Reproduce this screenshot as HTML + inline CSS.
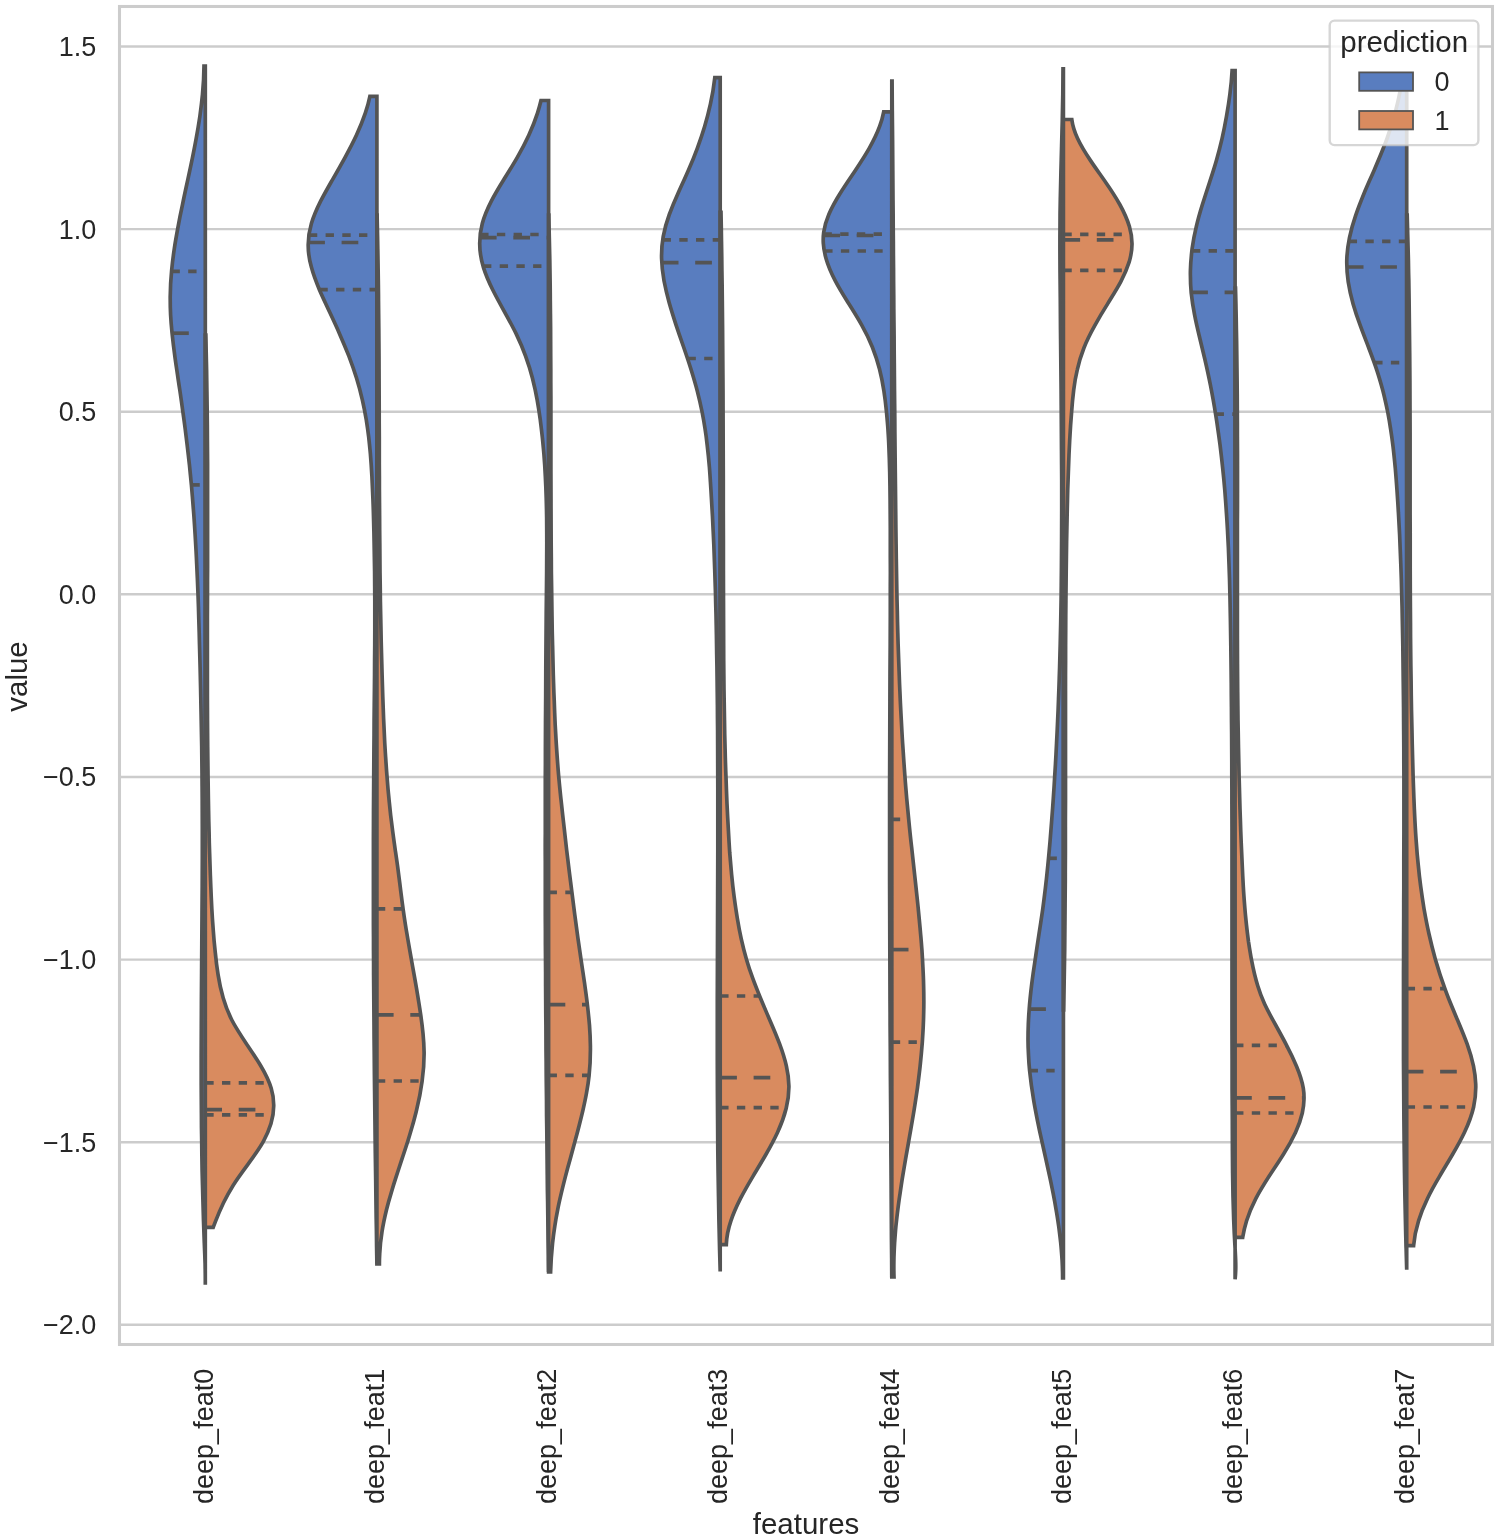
<!DOCTYPE html>
<html><head><meta charset="utf-8"><title>violin</title>
<style>html,body{margin:0;padding:0;background:#fff}svg{display:block;will-change:transform}text{font-family:"Liberation Sans",sans-serif;fill:#262626}</style></head><body>
<svg width="1499" height="1540" viewBox="0 0 1499 1540">
<rect width="1499" height="1540" fill="#fff"/>
<g stroke="#cccccc" stroke-width="2.45" fill="none">
<path d="M119.5 46.5H1492.5"/>
<path d="M119.5 229.1H1492.5"/>
<path d="M119.5 411.7H1492.5"/>
<path d="M119.5 594.3H1492.5"/>
<path d="M119.5 777H1492.5"/>
<path d="M119.5 959.6H1492.5"/>
<path d="M119.5 1142.2H1492.5"/>
<path d="M119.5 1324.8H1492.5"/>
</g>
<g stroke="#545454" stroke-width="3.68" stroke-linejoin="miter" stroke-miterlimit="10" stroke-linecap="butt">
<path d="M205.3 66 L204 66C203.9 75.4 203.4 84.8 202.5 94.2C201.8 101.5 200.9 108.9 199.9 116.2C198.8 123.6 197.6 131 196.2 138.3C194.9 145.7 193.4 153 191.9 160.4C190.4 167.8 188.8 175.1 187.2 182.5C185.6 189.8 184 197.2 182.5 204.6C180.9 211.9 179.4 219.2 178.1 226.6C176.7 234 175.4 241.3 174.3 248.7C173.2 256.1 172.3 263.4 171.6 270.8C170.7 279.6 170.3 288.5 170.2 297.3C170.2 303.2 170.3 309.1 170.6 315C170.9 320.8 171.4 326.7 172 332.6C172.9 341.4 174 350.3 175.2 359.1C175.9 364.2 176.7 369.4 177.5 374.6C178.2 379.7 179 384.9 179.8 390C180.9 397.3 181.9 404.7 182.9 412C183.7 417.7 184.5 423.4 185.2 429.1C185.9 434.8 186.6 440.5 187.3 446.2C188 452.6 188.8 459.1 189.5 465.5C190.1 472 190.8 478.4 191.4 484.9C192.1 493.2 192.8 501.4 193.4 509.7C194.1 518 194.6 526.2 195.1 534.5C195.7 544.4 196.3 554.4 196.7 564.3C197.2 574.2 197.6 584.2 198 594.1C198.3 602.6 198.6 611 198.8 619.5C199.1 628 199.3 636.4 199.5 644.9C199.7 652.2 199.9 659.6 200.1 667C200.3 674.3 200.5 681.6 200.6 689C200.7 694.2 200.8 699.3 200.9 704.5C201 709.7 201.1 714.8 201.2 720C201.4 728.9 201.5 737.8 201.7 746.7C201.8 755.6 201.9 764.4 202 773.3C202.1 782.2 202.1 791.1 202.2 800C202.3 809.5 202.3 819 202.3 828.6C202.3 838.1 202.3 847.6 202.3 857.1C202.3 866.7 202.2 876.2 202.2 885.7C202.1 895.2 202.1 904.8 202 914.3C201.9 923.8 201.9 933.3 201.8 942.9C201.7 952.4 201.7 961.9 201.6 971.4C201.5 981 201.5 990.5 201.4 1000C201.3 1009.4 201.3 1018.8 201.3 1028.2C201.2 1037.6 201.2 1047 201.2 1056.4C201.2 1065.8 201.2 1075.2 201.2 1084.6C201.2 1094 201.3 1103.4 201.4 1112.8C201.4 1122.2 201.5 1131.6 201.7 1141C201.8 1150.8 201.9 1160.7 202.1 1170.5C202.4 1180.3 202.6 1190.2 202.9 1200C203.1 1207 203.3 1214 203.5 1221C203.8 1228.3 204 1235.7 204.3 1243C204.6 1250 204.9 1256.9 205.1 1263.9C205.2 1270.9 205.4 1277.8 205.3 1284.8L205.3 1284.8Z" fill="#597dbf"/>
<g fill="none">
<path d="M171.5 271.4H205.3" stroke-dasharray="8.35 8.35"/>
<path d="M172.1 333.2H205.3" stroke-dasharray="16.7 16.7"/>
<path d="M191.4 484.9H205.3" stroke-dasharray="8.35 8.35"/>
</g>
<path d="M205.3 335 L205.8 335C206 340.8 206.1 346.7 206.2 352.5C206.3 358.3 206.5 364.2 206.6 370C206.7 377 206.8 384 206.9 391C207 398 207.1 405 207.2 412C207.3 420.7 207.4 429.3 207.4 438C207.5 446.7 207.5 455.3 207.6 464C207.6 472.7 207.6 481.3 207.6 490C207.6 498.7 207.6 507.3 207.6 516C207.6 524.7 207.6 533.3 207.6 542C207.6 550.7 207.6 559.3 207.6 568C207.5 576.7 207.5 585.3 207.5 594C207.5 602.4 207.4 610.8 207.4 619.2C207.4 627.6 207.4 636 207.4 644.4C207.4 652.8 207.4 661.2 207.4 669.6C207.4 678 207.4 686.4 207.4 694.8C207.4 703.2 207.5 711.6 207.5 720C207.6 728.9 207.6 737.8 207.7 746.7C207.8 755.6 207.9 764.4 208 773.3C208.1 782.2 208.2 791.1 208.4 800C208.5 807.2 208.7 814.3 208.8 821.5C209 828.7 209.2 835.8 209.3 843C209.5 850.2 209.8 857.3 210 864.5C210.2 871.9 210.5 879.2 210.8 886.6C211.1 894 211.4 901.3 211.8 908.7C212.2 916.1 212.7 923.4 213.3 930.8C213.8 938.1 214.5 945.4 215.3 952.8C216 960.2 216.9 967.5 218.1 974.9C219.3 982.6 220.9 990.3 223.2 998C225.3 1005.3 228.1 1012.7 231.8 1020C236 1028.1 241.3 1036.1 246.7 1044.2C251.6 1051.5 256.6 1058.9 261 1066.2C265.4 1073.6 269 1080.9 271.2 1088.3C273 1094.2 273.8 1100.1 273.7 1106C273.7 1111.9 272.7 1117.7 271 1123.6C269.2 1129.5 266.7 1135.4 263.4 1141.3C259.3 1148.7 254 1156 248.6 1163.4C243.2 1170.7 237.7 1178.1 233.1 1185.4C229.4 1191.3 226.3 1197.1 223.4 1203C220.6 1208.9 218 1214.9 215.7 1220.8C214.8 1223 214 1225.2 213.2 1227.4L205.3 1227.4Z" fill="#d98b5f"/>
<g fill="none">
<path d="M205.3 1082.8H269.3" stroke-dasharray="8.35 8.35"/>
<path d="M205.3 1109.7H273.6" stroke-dasharray="16.7 16.7"/>
<path d="M205.3 1114.8H273" stroke-dasharray="8.35 8.35"/>
</g>
<path d="M376.9 96.4 L369.9 96.4C368.8 102 367.2 107.5 365.3 113.1C362.8 120.5 359.8 127.8 356.4 135.2C352.9 142.6 349.1 149.9 345.1 157.3C341.1 164.6 336.9 172 332.7 179.3C328.5 186.7 324.3 194 320.5 201.4C316.8 208.8 313.6 216.1 311.4 223.5C309.2 230.9 308.1 238.2 308.2 245.6C308.2 252.9 309.4 260.3 311.5 267.6C313.5 275 316.3 282.3 319.4 289.7C322.6 297.1 326.1 304.4 329.5 311.8C333 319.2 336.4 326.5 339.6 333.9C342.8 341.2 345.9 348.6 348.8 355.9C351.6 363.3 354.2 370.6 356.5 378C358.8 385.4 360.7 392.7 362.4 400.1C363.9 406.7 365.2 413.4 366.3 420C367.2 425.7 368 431.3 368.7 437C369.3 442.7 369.9 448.3 370.4 454C371 461.4 371.5 468.8 371.9 476.1C372.3 483.5 372.6 490.9 372.9 498.3C373.2 505.7 373.4 513 373.6 520.4C373.8 527.8 374 535.1 374.1 542.5C374.3 552.3 374.5 562.1 374.6 571.9C374.7 581.7 374.7 591.6 374.8 601.4C374.8 611.2 374.8 621 374.8 630.8C374.8 640.7 374.7 650.7 374.6 660.6C374.6 670.5 374.5 680.5 374.4 690.4C374.3 700.3 374.2 710.3 374.1 720.2C374.1 730.1 374 740.1 373.9 750C373.8 760 373.7 770 373.7 780C373.6 790 373.6 800 373.5 810C373.5 820 373.4 830 373.4 840C373.4 850 373.4 860 373.4 870C373.4 880 373.4 890 373.4 900C373.4 908.3 373.4 916.7 373.4 925C373.5 933.3 373.5 941.7 373.5 950C373.6 958.3 373.6 966.7 373.6 975C373.7 983.3 373.7 991.7 373.8 1000C373.9 1008.3 373.9 1016.7 374 1025C374 1033.3 374.1 1041.7 374.2 1050C374.3 1058.3 374.3 1066.7 374.4 1075C374.5 1083.3 374.6 1091.7 374.7 1100C374.8 1108.9 374.9 1117.8 375 1126.7C375.1 1135.6 375.2 1144.4 375.3 1153.3C375.4 1162.2 375.5 1171.1 375.7 1180C375.8 1188.3 375.9 1196.7 376 1205C376.1 1213.3 376.2 1221.7 376.4 1230C376.5 1235.6 376.5 1241.3 376.6 1246.9C376.7 1252.5 376.8 1258.2 376.9 1263.8L376.9 1263.8Z" fill="#597dbf"/>
<g fill="none">
<path d="M308.9 235.2H376.9" stroke-dasharray="8.35 8.35"/>
<path d="M308.2 242.5H376.9" stroke-dasharray="16.7 16.7"/>
<path d="M319.4 289.7H376.9" stroke-dasharray="8.35 8.35"/>
</g>
<path d="M376.9 215 L377.1 215C377.3 222.5 377.4 230 377.6 237.5C377.7 245 377.9 252.5 378 260C378.1 266.7 378.2 273.3 378.3 280C378.4 286.7 378.5 293.3 378.5 300C378.6 309.2 378.7 318.3 378.8 327.5C378.9 336.7 378.9 345.8 379 355C379 364.2 379.1 373.3 379.1 382.5C379.1 391.7 379.2 400.8 379.2 410C379.2 418.8 379.2 427.7 379.3 436.5C379.3 445.3 379.3 454.2 379.3 463C379.4 471.8 379.4 480.7 379.4 489.5C379.5 498.3 379.5 507.2 379.6 516C379.6 524.8 379.7 533.7 379.8 542.5C379.8 552.3 379.9 562.1 380 571.9C380.2 581.7 380.3 591.6 380.4 601.4C380.6 611.2 380.8 621 381 630.8C381.1 638.2 381.3 645.5 381.5 652.9C381.7 660.2 381.9 667.6 382.1 674.9C382.3 682.3 382.6 689.6 382.8 697C383.1 704.2 383.3 711.3 383.6 718.5C383.9 725.7 384.3 732.8 384.6 740C384.9 746.1 385.3 752.1 385.7 758.2C386.1 764.3 386.5 770.3 387 776.4C387.6 785 388.4 793.7 389.3 802.3C390.1 811 391.1 819.6 392.3 828.3C393.2 835.7 394.3 843 395.3 850.4C396.4 857.8 397.5 865.1 398.4 872.5C399.2 878.6 400 884.6 400.7 890.7C401.5 896.8 402.2 902.8 403.1 908.9C404.3 917.5 405.6 926.2 407.1 934.8C408.5 943.5 410.1 952.1 411.6 960.8C413.2 969.8 414.9 978.8 416.4 987.8C417.9 996.8 419.4 1005.8 420.7 1014.8C421.6 1021 422.4 1027.2 423 1033.4C423.6 1039.6 424 1045.8 424.1 1052C424.2 1061.7 423.5 1071.5 422.1 1081.2C420.8 1090.9 418.9 1100.7 416.5 1110.4C415.2 1115.5 413.9 1120.7 412.4 1125.8C410.9 1131 409.4 1136.1 407.8 1141.3C405.9 1147.2 404 1153.1 402 1158.9C400.1 1164.8 398.1 1170.7 396.2 1176.6C394.4 1182.1 392.7 1187.6 391.1 1193.2C389.4 1198.7 387.9 1204.2 386.5 1209.7C384.7 1217.1 383.1 1224.4 382 1231.8C380.8 1239.2 380.1 1246.5 379.7 1253.9C379.5 1257.2 379.4 1260.5 379.4 1263.8L376.9 1263.8Z" fill="#d98b5f"/>
<g fill="none">
<path d="M376.9 908.9H403.1" stroke-dasharray="8.35 8.35"/>
<path d="M376.9 1014.8H420.7" stroke-dasharray="16.7 16.7"/>
<path d="M376.9 1081H422.2" stroke-dasharray="8.35 8.35"/>
</g>
<path d="M548.6 100.5 L541 100.5C540 104.7 538.8 108.9 537.5 113.1C535.1 120.5 532.2 127.8 528.8 135.2C525.4 142.6 521.6 149.9 517.3 157.3C513.1 164.6 508.5 172 504 179.3C499.4 186.7 495 194 491.2 201.4C487.4 208.8 484.3 216.1 482.3 223.5C480.5 230.1 479.7 236.8 479.7 243.4C479.7 251.5 481 259.5 483.5 267.6C485.8 275 489 282.3 492.7 289.7C496.4 297.1 500.4 304.4 504.5 311.8C508.5 319.2 512.6 326.5 516.2 333.9C519.7 341.2 522.9 348.6 525.5 355.9C528.2 363.3 530.5 370.6 532.4 378C534.3 385.4 535.9 392.7 537.2 400.1C538.4 406.7 539.4 413.4 540.3 420C541 425.7 541.7 431.3 542.3 437C542.9 442.7 543.4 448.3 543.9 454C544.5 461.3 545 468.7 545.3 476C545.7 483.3 546 490.7 546.2 498C546.5 507.8 546.7 517.7 546.7 527.5C546.8 537.4 546.8 547.2 546.7 557.1C546.7 566.9 546.6 576.8 546.5 586.6C546.4 595.7 546.3 604.8 546.2 613.8C546.2 622.9 546.1 632 546 641.1C545.9 650.1 545.9 659.2 545.8 668.3C545.8 677.4 545.7 686.5 545.7 695.5C545.6 704.6 545.6 713.7 545.5 722.8C545.5 731.8 545.4 740.9 545.4 750C545.4 759.3 545.4 768.5 545.3 777.8C545.3 787 545.3 796.3 545.3 805.6C545.3 814.8 545.3 824.1 545.3 833.3C545.2 842.6 545.2 851.9 545.3 861.1C545.3 870.4 545.3 879.6 545.3 888.9C545.3 898.1 545.3 907.4 545.3 916.7C545.4 925.9 545.4 935.2 545.4 944.4C545.5 953.7 545.5 963 545.6 972.2C545.6 981.5 545.6 990.7 545.7 1000C545.7 1008.3 545.8 1016.7 545.9 1025C545.9 1033.3 546 1041.7 546 1050C546.1 1058.3 546.2 1066.7 546.2 1075C546.3 1083.3 546.4 1091.7 546.5 1100C546.5 1110 546.6 1120 546.8 1130C546.9 1140 547 1150 547.1 1160C547.2 1170 547.3 1180 547.4 1190C547.6 1198.3 547.7 1206.7 547.8 1215C547.9 1223.3 548 1231.7 548.1 1240C548.2 1245.3 548.3 1250.7 548.4 1256C548.4 1261.3 548.5 1266.7 548.6 1272L548.6 1272Z" fill="#597dbf"/>
<g fill="none">
<path d="M480.2 234.5H548.6" stroke-dasharray="8.35 8.35"/>
<path d="M479.9 237.6H548.6" stroke-dasharray="16.7 16.7"/>
<path d="M483 266.1H548.6" stroke-dasharray="8.35 8.35"/>
</g>
<path d="M548.6 215 L548.8 215C549 222.5 549.2 230 549.3 237.5C549.5 245 549.7 252.5 549.8 260C549.9 266.7 550 273.3 550.1 280C550.2 286.7 550.3 293.3 550.3 300C550.4 309.2 550.5 318.3 550.6 327.5C550.6 336.7 550.7 345.8 550.7 355C550.8 364.2 550.8 373.3 550.8 382.5C550.9 391.7 550.9 400.8 550.9 410C550.9 419.8 550.9 429.6 550.9 439.4C550.9 449.2 550.9 459.1 550.9 468.9C550.9 478.7 551 488.5 551 498.3C551 508.1 551 517.9 551.1 527.7C551.1 537.5 551.2 547.4 551.3 557.2C551.3 567 551.4 576.8 551.6 586.6C551.7 596.4 551.8 606.2 552 616.1C552.1 625.9 552.3 635.7 552.6 645.5C552.8 655.4 553 665.2 553.3 675C553.6 683.3 553.8 691.7 554.2 700C554.5 708.3 554.8 716.7 555.2 725C555.7 733.3 556.1 741.7 556.7 750C557.3 758.8 557.9 767.6 558.7 776.4C559.5 785 560.3 793.7 561.3 802.3C562.2 811 563.2 819.6 564.2 828.3C565 835.4 565.8 842.5 566.6 849.6C567.5 856.7 568.3 863.9 569.2 871C570.1 878.1 571 885.2 571.9 892.3C572.8 899.9 573.8 907.5 574.8 915.1C575.8 922.7 576.9 930.4 577.9 938C579 945.6 580.1 953.2 581.2 960.8C582.3 968.1 583.4 975.5 584.5 982.8C585.5 990.2 586.6 997.5 587.4 1004.9C588.2 1011.8 588.9 1018.6 589.5 1025.5C590 1032.3 590.3 1039.2 590.4 1046C590.5 1055.8 590.2 1065.7 589.1 1075.5C588.5 1081.3 587.6 1087.1 586.5 1093C585.5 1098.8 584.2 1104.6 582.9 1110.4C581.7 1115.5 580.4 1120.7 579.1 1125.8C577.8 1131 576.4 1136.1 575 1141.3C573.4 1147.2 571.8 1153.1 570.2 1158.9C568.5 1164.8 566.9 1170.7 565.4 1176.6C564 1182.1 562.6 1187.6 561.3 1193.2C560 1198.7 558.7 1204.2 557.7 1209.7C556.6 1215.2 555.6 1220.7 554.8 1226.2C553.9 1231.8 553.2 1237.3 552.6 1242.8C551.6 1252.5 550.9 1262.3 550.6 1272L548.6 1272Z" fill="#d98b5f"/>
<g fill="none">
<path d="M548.6 892.3H571.9" stroke-dasharray="8.35 8.35"/>
<path d="M548.6 1004.7H587.4" stroke-dasharray="16.7 16.7"/>
<path d="M548.6 1075.3H589.1" stroke-dasharray="8.35 8.35"/>
</g>
<path d="M720.2 77.7 L714.8 77.7C713.8 86.5 712.4 95.4 710.4 104.2C708.8 111.5 706.9 118.9 704.7 126.2C702.5 133.6 700 140.9 697.3 148.3C694.6 155.7 691.6 163 688.3 170.4C685.1 177.8 681.7 185.1 678.4 192.5C675.1 199.8 672 207.2 669.3 214.5C666.6 221.9 664.5 229.2 663.2 236.6C661.9 244 661.4 251.3 661.6 258.7C661.8 266.1 662.7 273.4 664 280.8C665.4 288.1 667.2 295.5 669.2 302.8C671.3 310.2 673.6 317.5 676 324.9C678.5 332.3 681 339.6 683.6 347C686.1 354.3 688.6 361.7 690.9 369C693.2 376.4 695.4 383.7 697.3 391.1C699.1 398.1 700.7 405 702.1 412C703.2 417.5 704.2 423.1 705 428.6C705.9 434.1 706.6 439.7 707.2 445.2C708.1 452.6 708.8 459.9 709.4 467.2C710 474.6 710.4 481.9 710.9 489.3C711.5 498.5 712 507.7 712.5 516.9C712.9 526.1 713.4 535.3 713.8 544.5C714.1 552.8 714.4 561.1 714.7 569.4C715 577.6 715.2 585.9 715.5 594.2C715.6 600.9 715.8 607.7 716 614.4C716.1 621.2 716.3 627.9 716.4 634.7C716.5 641.4 716.6 648.2 716.7 654.9C716.9 663.2 717 671.6 717.1 679.9C717.2 688.3 717.3 696.6 717.4 705C717.4 713.3 717.5 721.7 717.6 730C717.6 740 717.7 750 717.7 760C717.8 770 717.8 780 717.8 790C717.8 800 717.8 810 717.8 820C717.8 830 717.8 840 717.8 850C717.7 860 717.7 870 717.7 880C717.7 890 717.6 900 717.6 910C717.5 920 717.5 930 717.5 940C717.4 950 717.4 960 717.4 970C717.4 980 717.3 990 717.3 1000C717.3 1010 717.3 1020 717.3 1030C717.3 1040 717.3 1050 717.3 1060C717.3 1070 717.4 1080 717.4 1090C717.4 1100 717.5 1110 717.6 1120C717.6 1130 717.7 1140 717.8 1150C717.9 1157.8 718 1165.6 718.1 1173.3C718.2 1181.1 718.3 1188.9 718.5 1196.7C718.6 1204.4 718.8 1212.2 718.9 1220C719.1 1230 719.3 1240 719.6 1250C719.8 1257.2 720 1264.3 720.2 1271.5L720.2 1271.5Z" fill="#597dbf"/>
<g fill="none">
<path d="M662.6 239.9H720.2" stroke-dasharray="8.35 8.35"/>
<path d="M661.8 262.6H720.2" stroke-dasharray="16.7 16.7"/>
<path d="M687.5 358.5H720.2" stroke-dasharray="8.35 8.35"/>
</g>
<path d="M720.2 212.3 L721 212.3C721.2 222 721.4 231.8 721.5 241.5C721.7 251.3 721.8 261 721.9 270.8C722.1 280.5 722.2 290.3 722.3 300C722.4 310 722.5 320 722.6 330C722.7 340 722.7 350 722.8 360C722.9 370 722.9 380 723 390C723 400 723.1 410 723.1 420C723.2 430 723.2 440 723.2 450C723.2 460 723.3 470 723.3 480C723.3 490 723.3 500 723.3 510C723.4 520 723.4 530 723.4 540C723.4 550 723.4 560 723.4 570C723.5 580 723.5 590 723.5 600C723.5 610 723.6 620 723.6 630C723.6 640 723.7 650 723.7 660C723.8 670 723.9 680 724 690C724.1 700 724.3 710 724.5 720C724.6 729.6 724.8 739.1 725.1 748.7C725.3 758.3 725.6 767.8 726 777.4C726.3 786.2 726.6 795.1 727 803.9C727.4 812.7 727.9 821.6 728.4 830.4C728.8 837.8 729.2 845.1 729.7 852.5C730.3 859.8 730.9 867.1 731.6 874.5C732.3 881.9 733.1 889.2 734.1 896.6C735.1 904 736.1 911.3 737.4 918.7C738.5 925.5 739.8 932.3 741.3 939.1C742.8 945.9 744.5 952.7 746.5 959.5C748.3 965.8 750.4 972 752.7 978.2C755 984.5 757.5 990.8 760 997C763.5 1005.3 767 1013.7 770.6 1022C773.8 1029.4 776.9 1036.8 779.7 1044.2C782.4 1051.5 784.8 1058.9 786.4 1066.2C787.9 1072.8 788.8 1079.4 788.9 1086C789 1093.4 788 1100.8 786.2 1108.2C784.2 1116.3 781.2 1124.4 777.5 1132.5C774.1 1139.8 770.1 1147.2 765.9 1154.5C761.7 1161.9 757.2 1169.2 752.8 1176.6C748.4 1184 744.2 1191.3 740.4 1198.7C736.7 1206.1 733.4 1213.4 730.9 1220.8C728.2 1228.7 726.6 1236.7 726.3 1244.6L720.2 1244.6Z" fill="#d98b5f"/>
<g fill="none">
<path d="M720.2 996H759.6" stroke-dasharray="8.35 8.35"/>
<path d="M720.2 1077.7H788.4" stroke-dasharray="16.7 16.7"/>
<path d="M720.2 1107.7H786.3" stroke-dasharray="8.35 8.35"/>
</g>
<path d="M891.8 111.9 L883.7 111.9C882.8 116.7 881.5 121.4 879.7 126.2C877 133.6 873.4 140.9 869.2 148.3C865 155.7 860.2 163 855.3 170.4C850.4 177.8 845.3 185.1 840.7 192.5C836.1 199.8 831.9 207.2 828.8 214.5C826.3 220.4 824.5 226.3 823.7 232.2C823.2 235.9 823.1 239.5 823.3 243.2C823.6 248.4 824.6 253.5 826.1 258.7C828.2 266.1 831.4 273.4 835.3 280.8C839.1 288.1 843.7 295.5 848.2 302.8C852.9 310.2 857.5 317.5 861.6 324.9C865.8 332.3 869.3 339.6 872.3 347C875.2 354.3 877.6 361.7 879.5 369C881.4 376.4 882.8 383.7 883.9 391.1C885 398.1 885.8 405 886.5 412C887 417.5 887.5 423 887.9 428.5C888.2 434 888.6 439.5 888.8 445C889.2 454.2 889.5 463.3 889.7 472.5C889.9 481.7 890 490.8 890.1 500C890.2 509.6 890.2 519.2 890.3 528.8C890.3 538.3 890.3 547.9 890.3 557.5C890.4 567.1 890.4 576.7 890.3 586.2C890.3 595.8 890.3 605.4 890.3 615C890.2 624.6 890.2 634.2 890.2 643.8C890.1 653.3 890.1 662.9 890 672.5C890 682.1 889.9 691.7 889.9 701.2C889.8 710.8 889.8 720.4 889.8 730C889.7 740 889.7 750 889.7 760C889.6 770 889.6 780 889.6 790C889.6 800 889.6 810 889.6 820C889.6 830 889.6 840 889.6 850C889.6 860 889.6 870 889.6 880C889.6 890 889.7 900 889.7 910C889.7 920 889.7 930 889.8 940C889.8 950 889.8 960 889.9 970C889.9 980 890 990 890 1000C890.1 1008.3 890.1 1016.7 890.1 1025C890.2 1033.3 890.2 1041.7 890.3 1050C890.3 1058.3 890.4 1066.7 890.4 1075C890.5 1083.3 890.5 1091.7 890.6 1100C890.6 1108.9 890.7 1117.8 890.8 1126.7C890.8 1135.6 890.9 1144.4 890.9 1153.3C891 1162.2 891.1 1171.1 891.1 1180C891.2 1190 891.3 1200 891.3 1210C891.4 1220 891.5 1230 891.5 1240C891.6 1246.2 891.6 1252.3 891.7 1258.5C891.7 1264.7 891.8 1270.8 891.8 1277L891.8 1277Z" fill="#597dbf"/>
<g fill="none">
<path d="M823.5 234.2H891.8" stroke-dasharray="8.35 8.35"/>
<path d="M823.3 235.5H891.8" stroke-dasharray="16.7 16.7"/>
<path d="M824.2 251H891.8" stroke-dasharray="8.35 8.35"/>
</g>
<path d="M891.8 81 L892.1 81C892.2 90.9 892.3 100.8 892.3 110.8C892.4 120.7 892.5 130.6 892.6 140.5C892.6 150.4 892.7 160.3 892.8 170.2C892.9 180.2 892.9 190.1 893 200C893.1 209 893.2 218.1 893.2 227.1C893.3 236.2 893.4 245.2 893.4 254.3C893.5 263.3 893.6 272.4 893.6 281.4C893.7 290.5 893.8 299.5 893.8 308.6C893.9 317.6 894 326.7 894.1 335.7C894.1 344.8 894.2 353.8 894.3 362.9C894.4 371.9 894.4 381 894.5 390C894.6 399.2 894.7 408.3 894.8 417.5C894.8 426.7 894.9 435.8 895 445C895.1 454.2 895.2 463.3 895.3 472.5C895.4 481.7 895.5 490.8 895.6 500C895.7 509.9 895.8 519.7 895.9 529.6C896 539.4 896.2 549.3 896.3 559.1C896.5 569 896.6 578.8 896.8 588.7C896.9 596.1 897.1 603.4 897.3 610.8C897.4 618.2 897.6 625.5 897.8 632.9C898 640.3 898.2 647.6 898.5 655C898.7 662.2 899 669.4 899.3 676.7C899.5 683.9 899.9 691.1 900.2 698.3C900.5 705.6 900.9 712.8 901.3 720C901.8 729.6 902.3 739.1 903 748.7C903.6 758.3 904.3 767.8 905 777.4C905.5 784.4 906.1 791.4 906.7 798.3C907.3 805.3 908 812.3 908.7 819.3C909.6 828.5 910.5 837.7 911.6 846.9C912.6 856.1 913.6 865.3 914.6 874.5C915.4 881.9 916.2 889.2 917 896.6C917.8 904 918.5 911.3 919.2 918.7C919.7 923.9 920.2 929 920.6 934.2C921.1 939.3 921.5 944.5 921.9 949.6C922.3 955.5 922.6 961.4 922.9 967.2C923.2 973.1 923.5 979 923.6 984.9C923.8 992.3 923.9 999.6 923.8 1007C923.7 1012.9 923.6 1018.8 923.3 1024.7C923.1 1030.5 922.7 1036.4 922.3 1042.3C921.7 1050 921 1057.6 920.2 1065.3C919.4 1073 918.4 1080.6 917.4 1088.3C916.1 1097.1 914.8 1106 913.3 1114.8C911.8 1123.6 910.3 1132.5 908.7 1141.3C907.7 1147.2 906.6 1153.1 905.6 1158.9C904.6 1164.8 903.6 1170.7 902.6 1176.6C901.7 1182.1 900.9 1187.6 900.1 1193.2C899.2 1198.7 898.5 1204.2 897.8 1209.7C897.1 1215.2 896.5 1220.7 895.9 1226.2C895.4 1231.8 895 1237.3 894.6 1242.8C894.3 1248.5 894 1254.2 893.9 1259.9C893.8 1265.6 893.8 1271.3 894 1277L891.8 1277Z" fill="#d98b5f"/>
<g fill="none">
<path d="M891.8 819.3H908.7" stroke-dasharray="8.35 8.35"/>
<path d="M891.8 949.6H921.9" stroke-dasharray="16.7 16.7"/>
<path d="M891.8 1042.2H922.3" stroke-dasharray="8.35 8.35"/>
</g>
<path d="M1063.4 68.8 L1063 68.8C1063 77.2 1062.9 85.7 1062.8 94.2C1062.6 102.6 1062.5 111 1062.3 119.5C1062.1 128.4 1061.8 137.2 1061.6 146.1C1061.4 155 1061.1 163.9 1060.9 172.8C1060.7 181.6 1060.5 190.5 1060.3 199.4C1060.1 208.2 1060 217.1 1060 226C1059.9 233.3 1059.9 240.7 1059.9 248C1059.9 255.3 1060 262.7 1060 270C1060.1 280 1060.2 290 1060.3 300C1060.3 310 1060.4 320 1060.5 330C1060.6 340 1060.7 350 1060.8 360C1060.9 370 1061 380 1061.1 390C1061.2 400 1061.2 410 1061.3 420C1061.4 430 1061.5 440 1061.5 450C1061.6 460 1061.6 470 1061.7 480C1061.7 490 1061.7 500 1061.7 510C1061.7 520 1061.7 530 1061.6 540C1061.6 550 1061.5 560 1061.4 570C1061.3 580 1061.2 590 1061.1 600C1061 607.4 1060.8 614.9 1060.7 622.3C1060.5 629.8 1060.4 637.2 1060.2 644.7C1060 652.1 1059.8 659.6 1059.6 667C1059.4 674.2 1059.1 681.3 1058.9 688.5C1058.6 695.7 1058.4 702.8 1058.1 710C1057.8 717.4 1057.4 724.7 1057.1 732.1C1056.7 739.4 1056.4 746.8 1056 754.1C1055.6 761.5 1055.2 768.8 1054.7 776.2C1054.3 783.6 1053.8 790.9 1053.3 798.3C1052.8 805.7 1052.3 813 1051.7 820.4C1051.2 826.7 1050.7 833 1050.2 839.3C1049.7 845.7 1049.1 852 1048.5 858.3C1047.7 866.7 1046.9 875.1 1045.9 883.5C1045 891.9 1043.9 900.3 1042.8 908.7C1041.6 917.1 1040.3 925.6 1039 934C1037.7 942.5 1036.4 950.9 1035.2 959.4C1033.9 967.7 1032.7 976 1031.7 984.2C1030.7 992.5 1029.8 1000.8 1029.2 1009.1C1028.8 1014.2 1028.5 1019.3 1028.3 1024.4C1028.1 1029.5 1028 1034.6 1028 1039.7C1028 1044.9 1028.2 1050 1028.5 1055.2C1028.7 1060.3 1029.1 1065.5 1029.6 1070.6C1030.6 1080.2 1031.9 1089.7 1033.5 1099.3C1034.6 1106.3 1036 1113.3 1037.4 1120.3C1038.8 1127.3 1040.3 1134.3 1041.9 1141.3C1043.2 1147.2 1044.5 1153.1 1045.8 1158.9C1047.1 1164.8 1048.4 1170.7 1049.7 1176.6C1050.9 1182.1 1052 1187.6 1053.1 1193.2C1054.2 1198.7 1055.2 1204.2 1056.1 1209.7C1057.1 1215.2 1057.9 1220.7 1058.7 1226.2C1059.4 1231.8 1060.1 1237.3 1060.7 1242.8C1061.3 1248.7 1061.7 1254.5 1062.1 1260.4C1062.4 1266.3 1062.6 1272.1 1062.6 1278L1063.4 1278Z" fill="#597dbf"/>
<g fill="none">
<path d="M1048.5 858.3H1063.4" stroke-dasharray="8.35 8.35"/>
<path d="M1029.2 1009.2H1063.4" stroke-dasharray="16.7 16.7"/>
<path d="M1029.6 1070.6H1063.4" stroke-dasharray="8.35 8.35"/>
</g>
<path d="M1063.4 119.5 L1071.8 119.5C1072.6 125.8 1074.6 132 1077.5 138.3C1080.9 145.7 1085.4 153 1090.4 160.4C1095.3 167.8 1100.7 175.1 1105.8 182.5C1110.9 189.8 1115.7 197.2 1119.8 204.5C1123.9 211.9 1127.2 219.2 1129.4 226.6C1131.1 232.5 1132.1 238.4 1132 244.3C1132 250.2 1130.9 256 1129.2 261.9C1127.1 268.5 1124.2 275.2 1120.7 281.8C1116.7 289.2 1112.1 296.5 1107.6 303.9C1103 311.2 1098.6 318.6 1094.6 325.9C1090.5 333.3 1086.8 340.6 1083.9 348C1081 355.4 1078.8 362.7 1077.2 370.1C1075.6 376.7 1074.5 383.4 1073.7 390C1072.8 397.3 1072.1 404.7 1071.6 412C1070.8 421.4 1070.2 430.8 1069.7 440.1C1069.2 449.5 1068.8 458.9 1068.5 468.3C1068.2 475.7 1068 483 1067.7 490.4C1067.5 497.8 1067.4 505.1 1067.2 512.5C1067 522.3 1066.8 532.1 1066.6 541.9C1066.5 551.7 1066.3 561.6 1066.2 571.4C1066.1 581.2 1066 591 1065.9 600.8C1065.8 610.7 1065.7 620.7 1065.7 630.6C1065.6 640.5 1065.6 650.5 1065.6 660.4C1065.5 670.3 1065.5 680.3 1065.5 690.2C1065.5 700.1 1065.5 710.1 1065.5 720C1065.5 728.9 1065.5 737.8 1065.5 746.7C1065.5 755.6 1065.5 764.4 1065.5 773.3C1065.5 782.2 1065.5 791.1 1065.5 800C1065.4 808.9 1065.4 817.8 1065.4 826.7C1065.4 835.6 1065.4 844.4 1065.4 853.3C1065.3 862.2 1065.3 871.1 1065.3 880C1065.2 887.8 1065.2 895.6 1065.1 903.3C1065.1 911.1 1065 918.9 1064.9 926.7C1064.8 934.4 1064.8 942.2 1064.7 950C1064.5 960 1064.4 970 1064.2 980C1064 990 1063.8 1000 1063.6 1010L1063.4 1010Z" fill="#d98b5f"/>
<g fill="none">
<path d="M1063.4 234.3H1131.2" stroke-dasharray="8.35 8.35"/>
<path d="M1063.4 239.9H1131.9" stroke-dasharray="16.7 16.7"/>
<path d="M1063.4 270.3H1126.1" stroke-dasharray="8.35 8.35"/>
</g>
<path d="M1235.1 70.5 L1232.1 70.5C1231.7 78.4 1230.9 86.3 1229.9 94.2C1229 101.5 1227.8 108.9 1226.5 116.2C1225.2 123.6 1223.8 130.9 1222.1 138.3C1220.4 145.7 1218.5 153 1216.4 160.4C1214.3 167.8 1211.9 175.1 1209.5 182.5C1207.1 189.8 1204.7 197.2 1202.4 204.5C1200.1 211.9 1198 219.2 1196.3 226.6C1194.5 234 1193.1 241.3 1192.1 248.7C1191.2 256.1 1190.6 263.4 1190.4 270.8C1190.3 278.1 1190.5 285.5 1191.2 292.8C1192 300.2 1193.1 307.5 1194.6 314.9C1196 322.3 1197.7 329.6 1199.5 337C1201.2 344.3 1203.1 351.7 1204.8 359C1206.8 367.7 1208.7 376.3 1210.4 385C1212.3 394.7 1214.1 404.5 1215.6 414.2C1216.5 419.5 1217.3 424.9 1218 430.2C1218.8 435.5 1219.5 440.9 1220.2 446.2C1221.1 453.6 1221.9 460.9 1222.7 468.3C1223.5 475.7 1224.2 483 1224.8 490.4C1225.4 497.8 1225.9 505.1 1226.4 512.5C1226.9 519.8 1227.4 527.1 1227.7 534.5C1228.3 544.4 1228.7 554.4 1229 564.3C1229.4 574.2 1229.7 584.2 1229.9 594.1C1230.1 602.6 1230.3 611.1 1230.4 619.5C1230.6 628 1230.7 636.5 1230.8 645C1230.9 653.3 1231 661.7 1231.1 670C1231.2 678.3 1231.3 686.7 1231.3 695C1231.4 703.3 1231.5 711.7 1231.5 720C1231.6 729.3 1231.7 738.7 1231.7 748C1231.8 757.3 1231.8 766.7 1231.8 776C1231.9 785.3 1231.9 794.7 1231.9 804C1231.9 813.3 1232 822.7 1232 832C1232 841.3 1232 850.7 1232 860C1232 869.3 1232 878.7 1232 888C1232 897.3 1232 906.7 1232 916C1232 925.3 1232 934.7 1232 944C1232 953.3 1232 962.7 1232 972C1232 981.3 1232 990.7 1232 1000C1232 1010 1232 1020 1232 1030C1232 1040 1232 1050 1232.1 1060C1232.1 1070 1232.1 1080 1232.1 1090C1232.2 1100 1232.2 1110 1232.3 1120C1232.3 1130 1232.4 1140 1232.4 1150C1232.5 1157.8 1232.6 1165.6 1232.6 1173.3C1232.7 1181.1 1232.8 1188.9 1233 1196.7C1233.2 1204.4 1233.4 1212.2 1233.7 1220C1234 1228.3 1234.4 1236.7 1234.9 1245C1235.2 1250.7 1235.6 1256.4 1235.7 1262.1C1235.9 1267.8 1235.7 1273.5 1235.1 1279.2L1235.1 1279.2Z" fill="#597dbf"/>
<g fill="none">
<path d="M1191.9 250.9H1235.1" stroke-dasharray="8.35 8.35"/>
<path d="M1191.2 292.4H1235.1" stroke-dasharray="16.7 16.7"/>
<path d="M1215.6 414.2H1235.1" stroke-dasharray="8.35 8.35"/>
</g>
<path d="M1235.1 288 L1235.5 288C1235.7 295 1235.9 302 1236 309C1236.2 316 1236.3 323 1236.4 330C1236.6 338.3 1236.7 346.7 1236.8 355C1236.9 363.3 1237 371.7 1237.1 380C1237.2 389.4 1237.3 398.9 1237.3 408.3C1237.4 417.8 1237.4 427.2 1237.4 436.7C1237.5 446.1 1237.5 455.6 1237.5 465C1237.5 474.4 1237.5 483.9 1237.5 493.3C1237.5 502.8 1237.5 512.2 1237.4 521.7C1237.4 531.1 1237.4 540.6 1237.4 550C1237.4 559.4 1237.4 568.9 1237.4 578.3C1237.4 587.8 1237.4 597.2 1237.4 606.7C1237.4 616.1 1237.4 625.6 1237.4 635C1237.4 644.4 1237.5 653.9 1237.5 663.3C1237.6 672.8 1237.6 682.2 1237.7 691.7C1237.8 701.1 1237.9 710.6 1238 720C1238.2 729.4 1238.3 738.7 1238.5 748.1C1238.7 757.5 1238.9 766.8 1239.1 776.2C1239.3 783.6 1239.5 790.9 1239.7 798.3C1239.9 805.7 1240.1 813 1240.4 820.4C1240.6 827.8 1240.9 835.1 1241.2 842.5C1241.5 849.8 1241.8 857.1 1242.2 864.5C1242.5 871.9 1242.9 879.2 1243.3 886.6C1243.7 894 1244.3 901.3 1244.9 908.7C1245.3 914.2 1245.9 919.7 1246.5 925.2C1247.1 930.8 1247.8 936.3 1248.5 941.8C1249.4 947.7 1250.3 953.5 1251.4 959.4C1253.1 968.3 1255 977.1 1257.8 986C1259.6 992 1261.9 998 1264.6 1004C1268 1011.3 1272.1 1018.7 1276.2 1026C1279.7 1032.4 1283.3 1038.9 1286.6 1045.3C1290.3 1052.3 1293.6 1059.2 1296.5 1066.2C1299.6 1073.6 1302.1 1080.9 1303.3 1088.3C1303.9 1092 1304.1 1095.6 1304 1099.3C1303.9 1103.9 1303.3 1108.4 1302.3 1113C1300.8 1119.5 1298.5 1126 1295.5 1132.5C1292.1 1139.8 1287.9 1147.2 1283.3 1154.5C1278.7 1161.9 1273.7 1169.2 1268.9 1176.6C1264.2 1184 1259.6 1191.3 1255.8 1198.7C1252 1206.1 1248.9 1213.4 1246.6 1220.8C1244.9 1226.3 1243.6 1231.8 1242.7 1237.3L1235.1 1237.3Z" fill="#d98b5f"/>
<g fill="none">
<path d="M1235.1 1045.3H1286.6" stroke-dasharray="8.35 8.35"/>
<path d="M1235.1 1097.8H1304" stroke-dasharray="16.7 16.7"/>
<path d="M1235.1 1113H1302.3" stroke-dasharray="8.35 8.35"/>
</g>
<path d="M1406.7 76 L1402.5 76C1401.8 81.3 1400.9 86.7 1399.9 92C1398.4 100.1 1396.4 108.1 1394.2 116.2C1392.1 123.6 1389.7 130.9 1387.1 138.3C1385.8 142 1384.4 145.6 1382.9 149.3C1380 156.7 1376.8 164 1373.6 171.4C1370.4 178.8 1367.1 186.1 1364 193.5C1361 200.9 1358.1 208.2 1355.6 215.6C1353.1 222.9 1351 230.3 1349.5 237.6C1348 245 1347 252.3 1346.8 259.7C1346.6 267.1 1347.1 274.4 1348.2 281.8C1349.3 289.2 1351 296.5 1353.1 303.9C1355.2 311.2 1357.7 318.6 1360.4 325.9C1363.1 333.3 1366 340.6 1368.8 348C1371.6 355.4 1374.4 362.7 1376.8 370.1C1379 376.7 1380.9 383.4 1382.7 390C1384.6 397.3 1386.2 404.7 1387.7 412C1388.8 417.7 1389.8 423.4 1390.6 429.1C1391.5 434.8 1392.3 440.5 1393 446.2C1393.9 453.6 1394.6 460.9 1395.3 468.3C1395.9 475.7 1396.5 483 1397 490.4C1397.5 497.8 1398 505.1 1398.4 512.5C1398.8 519.8 1399.2 527.1 1399.6 534.5C1400 544.4 1400.4 554.4 1400.8 564.3C1401.2 574.2 1401.5 584.2 1401.7 594.1C1402 602.6 1402.2 611.1 1402.3 619.5C1402.5 628 1402.7 636.5 1402.8 645C1402.9 653.3 1403 661.7 1403.1 670C1403.2 678.3 1403.3 686.7 1403.4 695C1403.5 703.3 1403.6 711.7 1403.6 720C1403.7 729.3 1403.7 738.7 1403.8 748C1403.8 757.3 1403.8 766.7 1403.9 776C1403.9 785.3 1403.9 794.7 1403.9 804C1403.9 813.3 1403.9 822.7 1403.9 832C1403.9 841.3 1403.8 850.7 1403.8 860C1403.8 869.3 1403.8 878.7 1403.8 888C1403.7 897.3 1403.7 906.7 1403.7 916C1403.7 925.3 1403.6 934.7 1403.6 944C1403.6 953.3 1403.6 962.7 1403.5 972C1403.5 981.3 1403.5 990.7 1403.5 1000C1403.5 1010 1403.5 1020 1403.5 1030C1403.5 1040 1403.5 1050 1403.5 1060C1403.6 1070 1403.6 1080 1403.7 1090C1403.7 1100 1403.8 1110 1403.9 1120C1404 1130 1404.1 1140 1404.2 1150C1404.3 1157.8 1404.4 1165.6 1404.5 1173.3C1404.6 1181.1 1404.8 1188.9 1404.9 1196.7C1405 1204.4 1405.2 1212.2 1405.4 1220C1405.6 1229.3 1405.8 1238.7 1406.1 1248C1406.3 1255.3 1406.5 1262.5 1406.7 1269.8L1406.7 1269.8Z" fill="#597dbf"/>
<g fill="none">
<path d="M1348.7 241.4H1406.7" stroke-dasharray="8.35 8.35"/>
<path d="M1346.8 267H1406.7" stroke-dasharray="16.7 16.7"/>
<path d="M1374.2 362.6H1406.7" stroke-dasharray="8.35 8.35"/>
</g>
<path d="M1406.7 215 L1407.2 215C1407.4 222.5 1407.6 230 1407.8 237.5C1408 245 1408.2 252.5 1408.4 260C1408.5 266.7 1408.6 273.3 1408.8 280C1408.9 286.7 1409 293.3 1409.1 300C1409.2 308.9 1409.3 317.8 1409.4 326.7C1409.5 335.6 1409.6 344.4 1409.7 353.3C1409.8 362.2 1409.8 371.1 1409.9 380C1409.9 388.9 1410 397.8 1410 406.8C1410 415.7 1410.1 424.6 1410.1 433.5C1410.1 442.4 1410.1 451.3 1410.1 460.2C1410.1 469.2 1410.1 478.1 1410.1 487C1410.1 495.9 1410.1 504.8 1410.1 513.8C1410.2 522.7 1410.2 531.6 1410.2 540.5C1410.2 549.4 1410.2 558.3 1410.2 567.2C1410.2 576.2 1410.3 585.1 1410.3 594C1410.4 603.7 1410.4 613.3 1410.5 623C1410.5 632.7 1410.6 642.3 1410.7 652C1410.8 661.7 1410.9 671.3 1411.1 681C1411.2 690.7 1411.3 700.3 1411.5 710C1411.7 717.4 1411.8 724.7 1412 732.1C1412.1 739.4 1412.3 746.8 1412.5 754.1C1412.7 761.5 1412.9 768.8 1413.1 776.2C1413.4 783.6 1413.6 790.9 1413.9 798.3C1414.2 805.7 1414.5 813 1414.9 820.4C1415.3 827.8 1415.7 835.1 1416.3 842.5C1416.8 849.8 1417.4 857.1 1418.2 864.5C1418.9 871.9 1419.7 879.2 1420.7 886.6C1421.7 894 1422.8 901.3 1424 908.7C1425.5 917.1 1427.1 925.6 1429 934C1430.9 942.5 1433 950.9 1435.4 959.4C1438.2 969.1 1441.3 978.9 1444.9 988.6C1446.2 992.4 1447.7 996.2 1449.2 1000C1451.9 1006.7 1454.7 1013.3 1457.5 1020C1460.9 1028.1 1464.3 1036.1 1467.2 1044.2C1469.8 1051.5 1472 1058.9 1473.5 1066.2C1474.7 1072.1 1475.5 1078 1475.7 1083.9C1476 1091.6 1475.3 1099.3 1473.6 1107C1471.7 1115.5 1468.4 1124 1464.4 1132.5C1460.9 1139.8 1456.8 1147.2 1452.5 1154.5C1448.2 1161.9 1443.7 1169.2 1439.4 1176.6C1435 1184 1430.9 1191.3 1427.4 1198.7C1423.8 1206.1 1420.8 1213.4 1418.6 1220.8C1416 1229.1 1414.3 1237.4 1413.6 1245.7L1406.7 1245.7Z" fill="#d98b5f"/>
<g fill="none">
<path d="M1406.7 988.6H1444.9" stroke-dasharray="8.35 8.35"/>
<path d="M1406.7 1071.7H1474.5" stroke-dasharray="16.7 16.7"/>
<path d="M1406.7 1107H1473.6" stroke-dasharray="8.35 8.35"/>
</g>
</g>
<rect x="119.5" y="6.5" width="1373" height="1338" fill="none" stroke="#cccccc" stroke-width="3.07"/>
<rect x="1329.7" y="20.6" width="148.7" height="124.5" rx="4.8" ry="4.8" fill="#fff" fill-opacity="0.8" stroke="#cccccc" stroke-opacity="0.8" stroke-width="2.4"/>
<text x="1404.2" y="51.7" font-size="29.5" text-anchor="middle">prediction</text>
<rect x="1359.2" y="72.4" width="53.8" height="18.4" fill="#597dbf" stroke="#545454" stroke-width="1.8"/>
<rect x="1359.2" y="111.0" width="53.8" height="18.4" fill="#d98b5f" stroke="#545454" stroke-width="1.8"/>
<text x="1434.6" y="90.9" font-size="27.0">0</text>
<text x="1434.6" y="129.6" font-size="27.0">1</text>
<text x="96.2" y="55.9" font-size="27.0" text-anchor="end">1.5</text>
<text x="96.2" y="238.5" font-size="27.0" text-anchor="end">1.0</text>
<text x="96.2" y="421.1" font-size="27.0" text-anchor="end">0.5</text>
<text x="96.2" y="603.7" font-size="27.0" text-anchor="end">0.0</text>
<text x="96.2" y="786.4" font-size="27.0" text-anchor="end">−0.5</text>
<text x="96.2" y="969" font-size="27.0" text-anchor="end">−1.0</text>
<text x="96.2" y="1151.6" font-size="27.0" text-anchor="end">−1.5</text>
<text x="96.2" y="1334.2" font-size="27.0" text-anchor="end">−2.0</text>
<text transform="translate(212.5 1368.8) rotate(-90)" font-size="27.0" text-anchor="end">deep_feat0</text>
<text transform="translate(384.1 1368.8) rotate(-90)" font-size="27.0" text-anchor="end">deep_feat1</text>
<text transform="translate(555.8 1368.8) rotate(-90)" font-size="27.0" text-anchor="end">deep_feat2</text>
<text transform="translate(727.4 1368.8) rotate(-90)" font-size="27.0" text-anchor="end">deep_feat3</text>
<text transform="translate(899 1368.8) rotate(-90)" font-size="27.0" text-anchor="end">deep_feat4</text>
<text transform="translate(1070.6 1368.8) rotate(-90)" font-size="27.0" text-anchor="end">deep_feat5</text>
<text transform="translate(1242.3 1368.8) rotate(-90)" font-size="27.0" text-anchor="end">deep_feat6</text>
<text transform="translate(1413.9 1368.8) rotate(-90)" font-size="27.0" text-anchor="end">deep_feat7</text>
<text x="806" y="1533.6" font-size="29.5" text-anchor="middle">features</text>
<text transform="translate(27 676.5) rotate(-90)" font-size="29.5" text-anchor="middle">value</text>
</svg></body></html>
